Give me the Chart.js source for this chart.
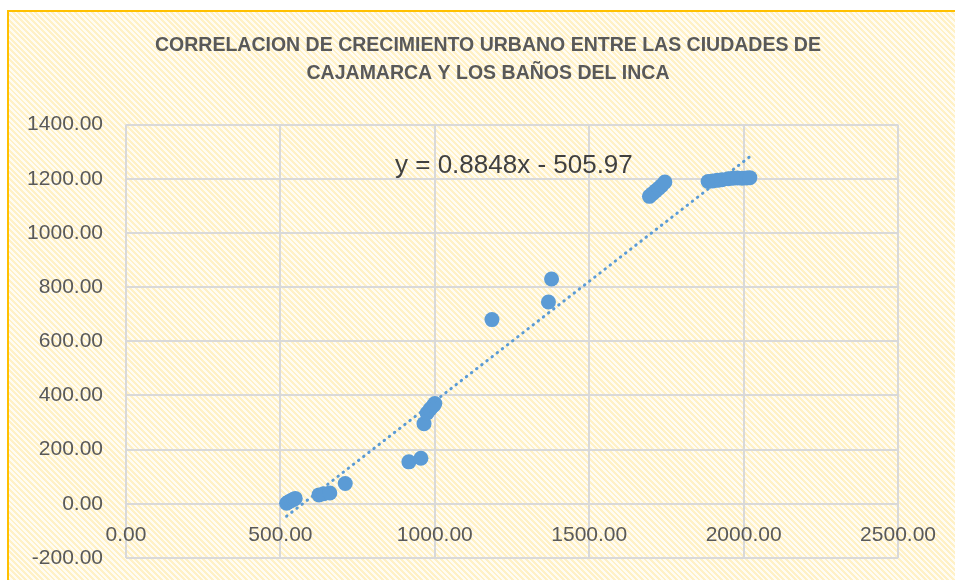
<!DOCTYPE html>
<html>
<head>
<meta charset="utf-8">
<script src="https://cdn.jsdelivr.net/npm/chart.js@4.4.1/dist/chart.umd.min.js"></script>
<style>
    html, body { margin: 0; padding: 0; width: 955px; height: 580px; overflow: hidden; background: #fff; }
    .frame {
        position: absolute; left: 7px; top: 10px; width: 1000px; height: 620px;
        border: 2px solid #FFC000;
        background: repeating-linear-gradient(45deg, #FFF1C6 0px, #FFF1C6 2px, #FFFCF3 2px, #FFFCF3 4px);
    }
    #chart { position: absolute; left: 0; top: 0; }
</style>
</head>
<body>
<div class="frame"></div>
<canvas id="chart" width="955" height="580"></canvas>
<script>
// Crecimiento urbano: Cajamarca (x) vs Los Baños del Inca (y)
const cajamarca = [520, 528, 535, 542, 548, 625, 640, 660, 710, 916, 955, 965, 975, 985, 995, 1000,
    1185, 1368, 1378, 1695, 1705, 1715, 1725, 1735, 1745,
    1885, 1900, 1915, 1930, 1950, 1965, 1980, 1995, 2010, 2020];
const banosDelInca = [2, 8, 12, 16, 20, 33, 37, 40, 75, 155, 168, 296, 335, 350, 362, 370,
    680, 745, 830, 1135, 1145, 1155, 1165, 1175, 1188,
    1190, 1192, 1194, 1196, 1200, 1202, 1203, 1202, 1203, 1204];

// Linear trendline
const slope = 0.8848;
const intercept = -505.97;

const titleLines = ['CORRELACION DE CRECIMIENTO URBANO ENTRE LAS CIUDADES DE', 'CAJAMARCA Y LOS BAÑOS DEL INCA'];
const equationText = 'y = 0.8848x - 505.97';

const FONT = '"Liberation Sans", Arial, sans-serif';
const BLUE = '#5B9BD5';

const points = cajamarca.map((x, i) => ({ x: x, y: banosDelInca[i] }));
const xMin = Math.min(...cajamarca);
const xMax = Math.max(...cajamarca);
const trend = [xMin, xMax].map(x => ({ x: x, y: slope * x + intercept }));

// Draws the trendline equation
const equationLabel = {
    id: 'equationLabel',
    afterDatasetsDraw(chart) {
        const ctx = chart.ctx;
        const area = chart.chartArea;
        ctx.save();
        ctx.font = '26px ' + FONT;
        ctx.fillStyle = '#404040';
        ctx.textAlign = 'left';
        ctx.textBaseline = 'middle';
        ctx.fillText(equationText, area.left + 269, area.top + 41);
        ctx.restore();
    }
};

new Chart(document.getElementById('chart'), {
    type: 'scatter',
    data: {
        datasets: [{
            type: 'line',
            data: trend,
            borderColor: BLUE,
            borderWidth: 3,
            borderDash: [0.5, 6],
            borderCapStyle: 'round',
            pointRadius: 0,
            fill: false,
            yAxisID: 'y'
        }, {
            data: points,
            backgroundColor: BLUE,
            borderColor: BLUE,
            borderWidth: 0,
            pointRadius: 7.5,
            pointHoverRadius: 7.5,
            yAxisID: 'y'
        }]
    },
    options: {
        responsive: false,
        animation: false,
        layout: { padding: { left: 21, right: 0, top: 0, bottom: 22 } },
        plugins: {
            legend: { display: false },
            tooltip: { enabled: false },
            title: {
                display: true,
                text: titleLines,
                color: '#595959',
                font: { family: FONT, size: 19.5, weight: 'bold', lineHeight: 1.45 },
                padding: { top: 31, bottom: 37 }
            }
        },
        scales: {
            x: {
                type: 'linear',
                position: { y: 0 },
                min: 0,
                max: 2500,
                afterFit: scale => { scale.height = 0; },
                ticks: {
                    stepSize: 500,
                    color: '#595959',
                    padding: 19,
                    maxRotation: 0,
                    font: { family: FONT, size: 21 },
                    callback: v => v.toFixed(2)
                },
                grid: { color: '#D9D9D9', lineWidth: 2, drawTicks: false },
                border: { display: true, color: '#D9D9D9', width: 2 }
            },
            y: {
                type: 'linear',
                position: 'left',
                min: -200,
                max: 1400,
                afterFit: scale => {
                    scale.width = 105;
                    scale.paddingTop = 0;
                    scale.paddingBottom = 0;
                },
                ticks: {
                    stepSize: 200,
                    color: '#595959',
                    padding: 23,
                    font: { family: FONT, size: 21 },
                    callback: v => v.toFixed(2)
                },
                grid: { color: '#D9D9D9', lineWidth: 2, drawTicks: false },
                border: { display: false }
            },
            // empty right-hand gutter
            gutter: {
                type: 'linear',
                position: 'right',
                min: -200,
                max: 1400,
                afterFit: scale => { scale.width = 55; },
                ticks: { display: false },
                grid: { display: false, drawTicks: false },
                border: { display: false }
            }
        }
    },
    plugins: [equationLabel]
});
</script>
</body>
</html>
